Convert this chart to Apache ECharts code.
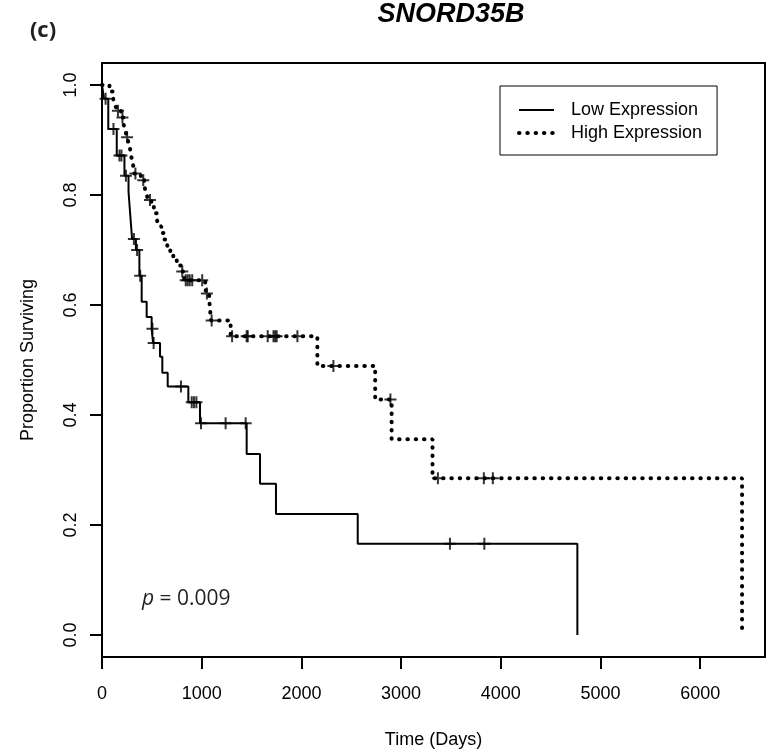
<!DOCTYPE html>
<html>
<head>
<meta charset="utf-8">
<script src="https://cdn.jsdelivr.net/npm/echarts@6/dist/echarts.min.js"></script>
<style>
html,body{margin:0;padding:0;background:#fff}
#c{width:767px;height:754px}
</style>
</head>
<body>
<div id="c"></div>
<script>
// ---- data ----
const xTicks = [0, 1000, 2000, 3000, 4000, 5000, 6000];
const yTicks = [0, 0.2, 0.4, 0.6, 0.8, 1.0];

const lowTimes = [0, 20, 63, 148, 225, 266, 278, 290, 302, 340, 375, 398, 448, 498, 512, 582, 605, 659, 866, 983, 1451, 1585, 1745, 2565, 4768];
const lowSurv  = [1.0, 0.975, 0.920, 0.872, 0.835, 0.806, 0.777, 0.748, 0.720, 0.700, 0.653, 0.606, 0.578, 0.557, 0.531, 0.506, 0.477, 0.452, 0.423, 0.385, 0.329, 0.275, 0.220, 0.166, 0.0];
const lowCensor = [36, 115, 175, 195, 240, 320, 352, 383, 506, 518, 792, 900, 923, 947, 993, 1240, 1441, 3490, 3835];

const highTimes = [0, 75, 110, 130, 150, 190, 215, 235, 250, 270, 285, 295, 310, 325, 390, 425, 445, 462, 495, 520, 550, 570, 595, 625, 655, 685, 715, 750, 790, 825, 1035, 1045, 1075, 1082, 1087, 1092, 1290, 2160, 2740, 2905, 3315, 6420];
const highSurv  = [1.0, 0.988, 0.976, 0.965, 0.953, 0.941, 0.929, 0.917, 0.905, 0.893, 0.881, 0.869, 0.857, 0.839, 0.827, 0.815, 0.803, 0.791, 0.779, 0.767, 0.755, 0.743, 0.731, 0.719, 0.707, 0.695, 0.683, 0.672, 0.661, 0.645, 0.633, 0.621, 0.609, 0.597, 0.585, 0.572, 0.543, 0.489, 0.428, 0.356, 0.285, 0.0];
const highCensor = [160, 205, 252, 335, 414, 481, 805, 840, 860, 880, 905, 1005, 1052, 1100, 1305, 1451, 1462, 1662, 1720, 1737, 1752, 1960, 2321, 2893, 3369, 3830, 3920];

const seriesNames = ['Low Expression', 'High Expression'];
const titleText = 'SNORD35B';
const panelText = '(c)';
const pText = '0.009';

// ---- build ----
const FONT = 'Liberation Sans, Arial, Helvetica, sans-serif';
function stepAt(ts, ss, t) {
  let v = ss[0];
  for (let i = 0; i < ts.length; i++) { if (ts[i] <= t) v = ss[i]; }
  return v;
}
const lowLine = lowTimes.map((t, i) => [t, lowSurv[i]]);
const highLine = highTimes.map((t, i) => [t, highSurv[i]]);
const lowCens = lowCensor.map(t => [t, stepAt(lowTimes, lowSurv, t)]);
const highCens = highCensor.map(t => [t, stepAt(highTimes, highSurv, t)]);

const cross = 'path://M0,6H12M6,0V12';
const crossStyle = { color: 'none', borderColor: '#000', borderWidth: 2 };
const solidStyle = { color: '#000', width: 2 };
const dotStyle = { color: '#000', width: 4, type: [0.5, 7.8], cap: 'round' };

const chart = echarts.init(document.getElementById('c'), null, { renderer: 'canvas' });
chart.setOption({
  animation: false,
  backgroundColor: '#fff',
  grid: { left: 102, right: 2, top: 63, bottom: 96, show: true, borderColor: '#000', borderWidth: 2, backgroundColor: 'transparent' },
  xAxis: {
    type: 'value', min: 0, max: 6650,
    axisLine: { show: false, onZero: false },
    axisTick: { show: true, customValues: xTicks, length: 12, lineStyle: { color: '#000', width: 2 } },
    axisLabel: { customValues: xTicks, margin: 28, fontSize: 18, fontFamily: FONT, color: '#000',
      formatter: v => String(Math.round(v)) },
    splitLine: { show: false },
    name: 'Time (Days)', nameLocation: 'middle', nameGap: 74,
    nameTextStyle: { fontSize: 18, fontFamily: FONT, color: '#000' }
  },
  yAxis: {
    type: 'value', min: -0.04, max: 1.04,
    axisLine: { show: false, onZero: false },
    axisTick: { show: true, customValues: yTicks, length: 12, lineStyle: { color: '#000', width: 2 } },
    axisLabel: { customValues: yTicks, rotate: 90, margin: 22, fontSize: 18, fontFamily: FONT, color: '#000',
      formatter: v => Number(v).toFixed(1) },
    splitLine: { show: false },
    name: 'Proportion Surviving', nameLocation: 'middle', nameGap: 65, nameRotate: 90,
    nameTextStyle: { fontSize: 18, fontFamily: FONT, color: '#000' }
  },
  legend: {
    data: [
      { name: seriesNames[0], lineStyle: solidStyle },
      { name: seriesNames[1], lineStyle: dotStyle }
    ],
    orient: 'vertical', left: 500, top: 86,
    padding: [15, 15, 13, 17], itemWidth: 35, itemHeight: 14, itemGap: 5,
    borderColor: '#000', borderWidth: 1, backgroundColor: '#fff',
    selectedMode: false,
    itemStyle: { color: 'transparent', borderWidth: 0, opacity: 0 },
    textStyle: { fontSize: 18, fontFamily: FONT, color: '#000', padding: [0, 0, 0, 12] }
  },
  graphic: [
    { type: 'text', x: 451, y: 15, style: { text: titleText, fontSize: 27, fontWeight: 'bold', fontStyle: 'italic', fontFamily: FONT, fill: '#000', align: 'center', verticalAlign: 'middle' } },
    { type: 'text', x: 43, y: 31, style: { text: panelText, fontSize: 22, fontWeight: 'bold', fontFamily: 'Open Sans, sans-serif', fill: '#231f20', align: 'center', verticalAlign: 'middle' } },
    { type: 'text', x: 142, y: 599, style: {
        text: '{i|p} = ' + pText, fontSize: 21, fontFamily: 'Open Sans, sans-serif', fill: '#231f20', align: 'left', verticalAlign: 'middle',
        rich: { i: { fontStyle: 'italic', fontSize: 21, fontFamily: 'Open Sans, sans-serif', fill: '#231f20' } } } }
  ],
  series: [
    { name: seriesNames[0], type: 'line', step: 'end', data: lowLine, symbol: 'none',
      lineStyle: solidStyle, itemStyle: { color: '#000' }, z: 2 },
    { name: seriesNames[1], type: 'line', step: 'end', data: highLine, symbol: 'none',
      lineStyle: dotStyle, itemStyle: { color: '#000' }, z: 2 },
    { name: 'lowCensor', type: 'scatter', data: lowCens, symbol: cross, symbolSize: 12, itemStyle: crossStyle, z: 3 },
    { name: 'highCensor', type: 'scatter', data: highCens, symbol: cross, symbolSize: 12, itemStyle: crossStyle, z: 3 }
  ]
});
</script>
</body>
</html>
